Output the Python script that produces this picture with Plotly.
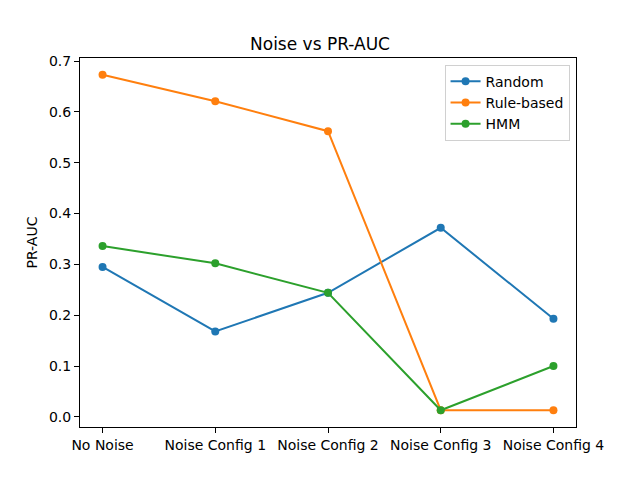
import plotly.graph_objects as go

categories = ["No Noise", "Noise Config 1", "Noise Config 2", "Noise Config 3", "Noise Config 4"]
random_vals = [0.295, 0.168, 0.244, 0.372, 0.193]
rule_vals = [0.673, 0.621, 0.562, 0.013, 0.013]
hmm_vals = [0.336, 0.302, 0.244, 0.013, 0.100]
series = [("Random", random_vals, "#1f77b4"),
          ("Rule-based", rule_vals, "#ff7f0e"),
          ("HMM", hmm_vals, "#2ca02c")]
y_ticks = [0.0, 0.1, 0.2, 0.3, 0.4, 0.5, 0.6, 0.7]

fig = go.Figure()
xs = list(range(len(categories)))
for name, vals, color in series:
    fig.add_trace(go.Scatter(x=xs, y=vals, mode="lines+markers", name=name,
                             line=dict(color=color, width=2),
                             marker=dict(color=color, size=8)))

allv = random_vals + rule_vals + hmm_vals
lo, hi = min(allv), max(allv)
pad = (hi - lo) * 0.05

axis_common = dict(showline=True, linecolor="black", linewidth=1, mirror=True,
                   ticks="outside", ticklen=5, tickwidth=1, tickcolor="black",
                   showgrid=False, zeroline=False,
                   tickfont=dict(family="DejaVu Sans", size=14, color="black"))

fig.update_layout(
    width=640, height=480,
    paper_bgcolor="white", plot_bgcolor="white",
    margin=dict(l=80, r=64, t=58, b=53),
    title=dict(text="Noise vs PR-AUC", x=0.5, xanchor="center", y=1 - 44 / 480, yanchor="middle",
               font=dict(family="DejaVu Sans", size=17, color="black")),
    xaxis=dict(range=[-0.2, 4.2], tickmode="array", tickvals=xs, ticktext=categories, **axis_common),
    yaxis=dict(range=[lo - pad, hi + pad], tickmode="array", tickvals=y_ticks,
               ticktext=[f"{v:.1f}" for v in y_ticks],
               title=dict(text="PR-AUC", font=dict(family="DejaVu Sans", size=14, color="black"), standoff=8),
               **axis_common),
    legend=dict(x=0.987, y=0.982, xanchor="right", yanchor="top",
                bgcolor="rgba(255,255,255,0.8)", bordercolor="#d0d0d0", borderwidth=1,
                font=dict(family="DejaVu Sans", size=14, color="black"),
                itemwidth=30, tracegroupgap=0),
    showlegend=True,
)

fig.write_html("out.html")
